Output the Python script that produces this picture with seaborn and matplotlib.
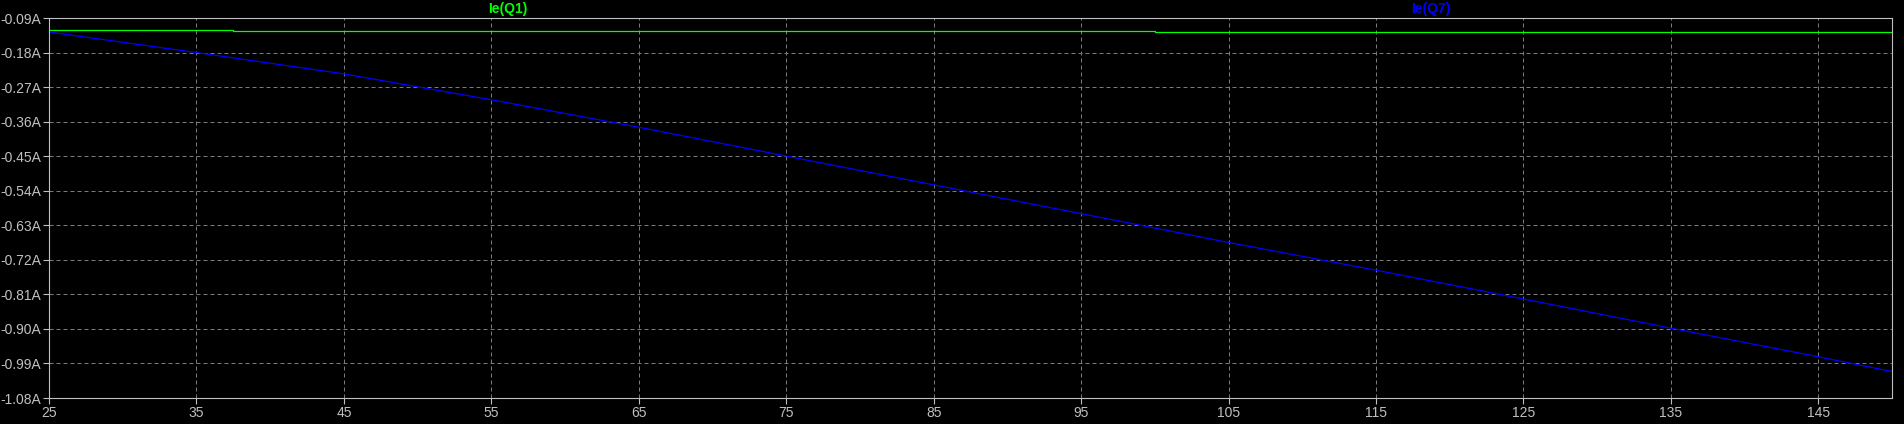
import matplotlib
matplotlib.use("Agg")
import matplotlib.pyplot as plt
import seaborn as sns

# Temperature sweep (deg C) and emitter currents
temps_q7 = [25, 35, 45, 55, 65, 75, 85, 95, 105, 115, 125, 135, 145, 150]
ie_q7 = [-0.1265, -0.180, -0.2356, -0.303, -0.3745, -0.4497, -0.5247,
         -0.5997, -0.6747, -0.747, -0.822, -0.898, -0.9725, -1.011]

temps_q1 = [25, 37.5, 100, 150]
ie_q1 = [-0.1221, -0.1247, -0.1273, -0.1273]

x_ticks = [25, 35, 45, 55, 65, 75, 85, 95, 105, 115, 125, 135, 145]
y_ticks = [-0.09, -0.18, -0.27, -0.36, -0.45, -0.54, -0.63, -0.72, -0.81,
           -0.90, -0.99, -1.08]

sns.set_style("dark")
plt.rcParams['font.family'] = ['Liberation Sans', 'DejaVu Sans']

grey = "#c0c0c0"
W, H = 1904, 424
fig = plt.figure(figsize=(W / 100, H / 100), dpi=100, facecolor="black")
ax = fig.add_axes([49 / W, (H - 398) / H, (1892 - 49) / W, (398 - 18) / H])
ax.set_facecolor("black")

sns.lineplot(x=temps_q1, y=ie_q1, estimator=None, drawstyle="steps-post",
             color="#00ff00", linewidth=0.9, ax=ax)
sns.lineplot(x=temps_q7, y=ie_q7, estimator=None, color="#0000ff",
             linewidth=0.9, ax=ax)

ax.set_xlim(25, 150)
ax.set_ylim(-1.08, -0.09)
ax.set_xticks(x_ticks)
ax.set_xticklabels([str(t) for t in x_ticks])
ax.set_yticks(y_ticks)
ax.set_yticklabels([f"{v:.2f}A" for v in y_ticks])

ax.grid(True, color="#7a7a7a", linestyle=(0, (4, 3)), linewidth=0.72)
for s in ax.spines.values():
    s.set_visible(True)
    s.set_color(grey)
    s.set_linewidth(0.8)

ax.tick_params(axis="both", colors=grey, labelcolor=grey, length=4,
               width=0.8, direction="out", labelsize=10, pad=1.5,
               left=True, bottom=True)
ax.set_xlabel("")
ax.set_ylabel("")

fig.text(508 / W, 1 - 9 / H, "Ie(Q1)", color="#00ff00", ha="center",
         va="center", fontsize=10, fontweight="bold")
fig.text(1431 / W, 1 - 9 / H, "Ie(Q7)", color="#0000ff", ha="center",
         va="center", fontsize=10, fontweight="bold")

fig.savefig("out.png", dpi=100, facecolor="black")
